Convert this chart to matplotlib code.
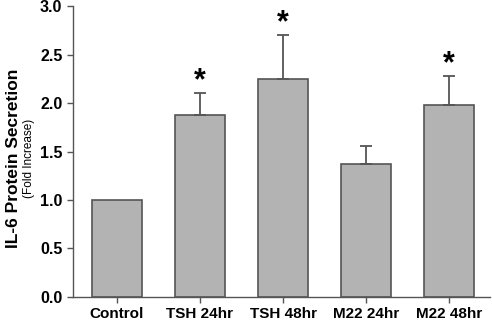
import numpy as np
import matplotlib.pyplot as plt

plt.rcParams['font.family'] = ['Liberation Sans', 'DejaVu Sans']

# data
groups = ["Control", "TSH 24hr", "TSH 48hr", "M22 24hr", "M22 48hr"]
means = [1.0, 1.88, 2.25, 1.37, 1.98]
sems = [0.0, 0.22, 0.45, 0.19, 0.30]
significant = [False, True, True, False, True]

fig = plt.figure(figsize=(4.92, 3.2), dpi=100)
ax = fig.add_axes([0.148, 0.072, 0.848, 0.909])

x = np.arange(len(groups))
ax.bar(x, means, width=0.6, color="#b3b3b3", edgecolor="#555555", linewidth=1.2)

# upper error bars only, control has none
has_err = np.array(sems) > 0
ax.errorbar(x[has_err], np.array(means)[has_err],
            yerr=[np.zeros(has_err.sum()), np.array(sems)[has_err]],
            fmt="none", ecolor="#555555", elinewidth=1.3, capsize=4, capthick=1.3)

# significance stars above the error bars
for xi, m, s, sig in zip(x, means, sems, significant):
    if sig:
        ax.text(xi, m + s + 0.12, "*", ha="center", va="center",
                fontsize=22, fontweight="bold")

ax.set_xlim(-0.53, 4.49)
ax.set_ylim(0, 3.0)
yt = np.arange(0, 3.01, 0.5)
ax.set_yticks(yt)
ax.set_yticklabels([f"{v:.1f}" for v in yt], fontsize=11.5, fontweight="bold")
ax.set_xticks(x)
ax.set_xticklabels(groups, fontsize=11, fontweight="bold")
ax.tick_params(direction="out", length=4, width=1, color="#555555")

for side in ["top", "right"]:
    ax.spines[side].set_visible(False)
for side in ["left", "bottom"]:
    ax.spines[side].set_color("#555555")
    ax.spines[side].set_linewidth(1)

fig.text(0.028, 0.505, "IL-6 Protein Secretion", rotation=90, ha="center",
         va="center", fontsize=12.5, fontweight="bold")
fig.text(0.058, 0.505, "(Fold Increase)", rotation=90, ha="center",
         va="center", fontsize=8.5)

plt.savefig("out.png", dpi=100)
